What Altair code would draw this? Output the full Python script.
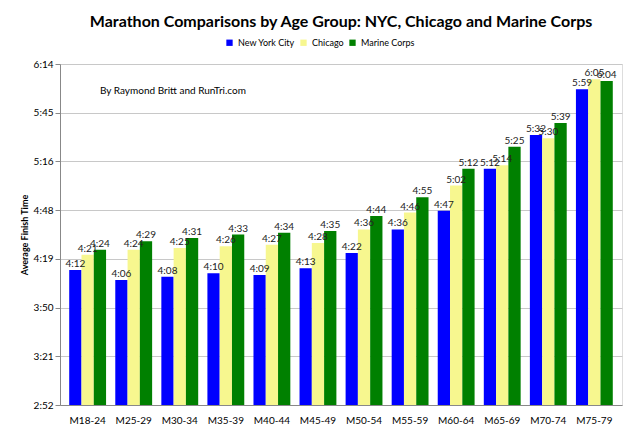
import pandas as pd
import altair as alt

groups = ["M18-24", "M25-29", "M30-34", "M35-39", "M40-44", "M45-49",
          "M50-54", "M55-59", "M60-64", "M65-69", "M70-74", "M75-79"]
nyc = ["4:12", "4:06", "4:08", "4:10", "4:09", "4:13", "4:22", "4:36", "4:47", "5:12", "5:32", "5:59"]
chicago = ["4:21", "4:24", "4:25", "4:26", "4:27", "4:28", "4:36", "4:46", "5:02", "5:14", "5:30", "6:05"]
marine = ["4:24", "4:29", "4:31", "4:33", "4:34", "4:35", "4:44", "4:55", "5:12", "5:25", "5:39", "6:04"]
series = ["New York City", "Chicago", "Marine Corps"]
colors = ["#0000ff", "#f7f78f", "#008000"]
tick_labels = ["2:52", "3:21", "3:50", "4:19", "4:48", "5:16", "5:45", "6:14"]


def to_min(s):
    h, m = s.split(":")
    return int(h) * 60 + int(m)


rows = []
for name, vals in zip(series, [nyc, chicago, marine]):
    for g, v in zip(groups, vals):
        rows.append({"group": g, "race": name, "minutes": to_min(v), "label": v})
df = pd.DataFrame(rows)

lo, hi = 172, 374
step = (hi - lo) / 7
ticks = [lo + step * i for i in range(8)]
label_expr = "%s[round((datum.value - %d) / %f)]" % (str(tick_labels), lo, step)

base = alt.Chart(df).encode(
    x=alt.X("group:N", sort=groups, title=None,
            axis=alt.Axis(labelAngle=0, labelFontSize=10, ticks=False, labelPadding=10,
                          domainColor="#888")),
    xOffset=alt.XOffset("race:N", sort=series),
    y=alt.Y("minutes:Q", title="Average Finish Time",
            scale=alt.Scale(domain=[lo, hi], nice=False, zero=False),
            axis=alt.Axis(values=ticks, labelFontSize=10, titleFontSize=9,
                          titleFontWeight="bold", domainColor="#888", tickColor="#888",
                          gridColor="#c8c8c8", labelExpr=label_expr)),
)

bars = base.mark_bar(clip=True).encode(
    color=alt.Color("race:N", sort=series,
                    scale=alt.Scale(domain=series, range=colors),
                    legend=alt.Legend(title=None, orient="none", legendX=165, legendY=-26,
                                      direction="horizontal", symbolType="square",
                                      symbolSize=40, labelFontSize=9, columnPadding=4,
                                      symbolStrokeWidth=0))
)

labels = base.mark_text(dy=-6, fontSize=10, color="#222").encode(text="label:N")

note = alt.Chart(pd.DataFrame({"t": ["By Raymond Britt and RunTri.com"]})).mark_text(
    align="left", fontSize=10, font="Lato").encode(x=alt.value(40), y=alt.value(27), text="t:N")

final = alt.layer(bars, labels, note).properties(
    width=562, height=341,
    title=alt.Title("Marathon Comparisons by Age Group: NYC, Chicago and Marine Corps",
                    fontSize=16, fontWeight="bold", offset=8),
    padding={"left": 52, "top": 56, "right": 8, "bottom": 20},
    autosize=alt.AutoSizeParams(type="none"),
).configure_scale(bandPaddingInner=0.36, bandPaddingOuter=0.18).configure_view(
    stroke=None
).configure(font="Lato")

final.save("out.html", embed_options={"renderer": "svg", "actions": False})
